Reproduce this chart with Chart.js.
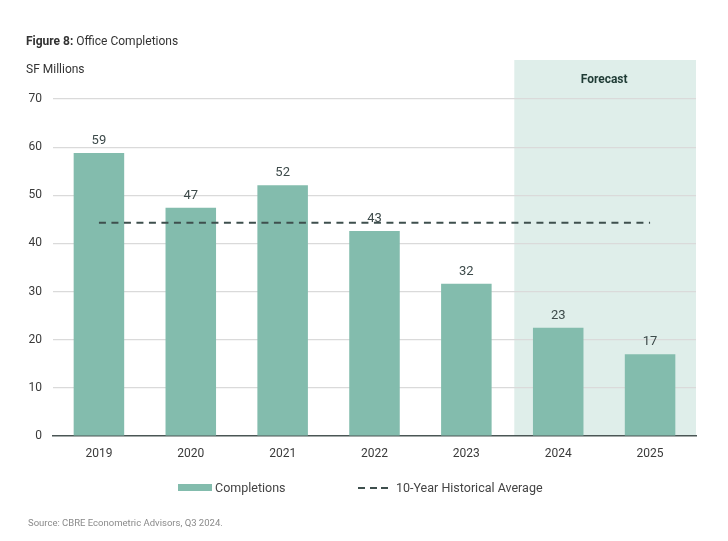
<!DOCTYPE html>
<html>
<head>
<meta charset="utf-8">
<script src="https://cdn.jsdelivr.net/npm/chart.js@4.4.1/dist/chart.umd.min.js"></script>
<style>
  html, body { margin: 0; padding: 0; background: #fff; }
  body { width: 728px; height: 541px; position: relative; overflow: hidden; font-family: Roboto, "Open Sans", sans-serif; color: #333; }
  #wrap { position: absolute; left: 0; top: 0; width: 728px; height: 541px; }
  .txt { position: absolute; white-space: nowrap; }
  #title { left: 26px; top: 34px; font-size: 12px; color: #333; }
  #title b { font-weight: 700; }
  #units { left: 26px; top: 62px; font-size: 12px; color: #333; }
  #leg1box { position: absolute; left: 178px; top: 484px; width: 34px; height: 7px; background: #83bcad; }
  #leg1 { left: 215px; top: 480px; font-size: 12.5px; color: #444; }
  .dash { position: absolute; top: 487px; width: 7px; height: 2px; background: #3e4f4d; }
  #leg2 { left: 396px; top: 480px; font-size: 12.5px; color: #444; }
  #source { left: 28px; top: 517px; font-size: 9.5px; color: #8a8a8a; }
</style>
</head>
<body>
<div id="wrap"><canvas id="c" width="728" height="541"></canvas></div>
<div class="txt" id="title"><b>Figure 8:</b> Office Completions</div>
<div class="txt" id="units">SF Millions</div>
<div id="leg1box"></div><div class="txt" id="leg1">Completions</div>
<div class="dash" style="left:358px"></div><div class="dash" style="left:369.5px"></div><div class="dash" style="left:381px"></div>
<div class="txt" id="leg2">10-Year Historical Average</div>
<div class="txt" id="source">Source: CBRE Econometric Advisors, Q3 2024.</div>
<script>
const years = ["2019", "2020", "2021", "2022", "2023", "2024", "2025"];
const completions = [58.8, 47.4, 52.1, 42.6, 31.6, 22.5, 17.0];
const historicalAverage = [44.3, 44.3, 44.3, 44.3, 44.3, 44.3, 44.3];
const yTicks = [0, 10, 20, 30, 40, 50, 60, 70];
const forecastYears = ["2024", "2025"];
const forecastLabel = "Forecast";

const forecastPlugin = {
  id: 'forecastShade',
  beforeDraw(chart) {
    const x = chart.scales.x, y = chart.scales.y, ctx = chart.ctx;
    const i0 = years.indexOf(forecastYears[0]);
    const i1 = years.indexOf(forecastYears[forecastYears.length - 1]);
    const half = (x.getPixelForValue(1) - x.getPixelForValue(0)) / 2;
    const left = x.getPixelForValue(i0) - half + 2;
    const right = x.getPixelForValue(i1) + half;
    const top = y.getPixelForValue(70) - 39;
    const bottom = y.getPixelForValue(0);
    ctx.save();
    ctx.fillStyle = '#dfeeea';
    ctx.fillRect(left, top, right - left, bottom - top);
    ctx.restore();
  },
  afterDatasetsDraw(chart) {
    const x = chart.scales.x, y = chart.scales.y, ctx = chart.ctx;
    const i0 = years.indexOf(forecastYears[0]);
    const i1 = years.indexOf(forecastYears[forecastYears.length - 1]);
    const cx = (x.getPixelForValue(i0) + x.getPixelForValue(i1)) / 2;
    ctx.save();
    ctx.font = 'bold 12px Roboto, sans-serif';
    ctx.fillStyle = '#1f3b35';
    ctx.textAlign = 'center';
    ctx.textBaseline = 'middle';
    ctx.fillText(forecastLabel, cx, y.getPixelForValue(70) - 19);
    // value labels
    ctx.font = '13px Roboto, sans-serif';
    ctx.fillStyle = '#3d4a4a';
    ctx.textBaseline = 'middle';
    const meta = chart.getDatasetMeta(0);
    meta.data.forEach((bar, i) => {
      ctx.fillText(String(Math.round(completions[i])), bar.x, bar.y - 12);
    });
    ctx.restore();
  }
};

new Chart(document.getElementById('c'), {
  data: {
    labels: years,
    datasets: [
      {
        type: 'bar',
        label: 'Completions',
        data: completions,
        backgroundColor: '#83bcad',
        barPercentage: 0.55,
        categoryPercentage: 1.0,
        order: 2
      },
      {
        type: 'line',
        label: '10-Year Historical Average',
        data: historicalAverage,
        borderColor: '#3e4f4d',
        borderWidth: 2,
        borderDash: [7, 5.5],
        pointRadius: 0,
        fill: false,
        order: 1
      }
    ]
  },
  options: {
    responsive: false,
    animation: false,
    devicePixelRatio: 1,
    layout: { padding: { top: 99, right: 32, bottom: 75, left: 0 } },
    plugins: { legend: { display: false }, tooltip: { enabled: false } },
    scales: {
      x: {
        grid: { display: false, drawTicks: false },
        border: { display: true, color: '#4a5655', width: 1.5 },
        ticks: { color: '#3a3a3a', font: { family: 'Roboto', size: 12 }, padding: 11 },
        afterFit(scale) { scale.height = 30; }
      },
      y: {
        min: 0, max: 70,
        afterBuildTicks(scale) { scale.ticks = yTicks.map(v => ({ value: v })); },
        grid: { color: (c) => c.tick && c.tick.value === 0 ? 'rgba(0,0,0,0)' : '#dadada', drawTicks: false, lineWidth: 1.2 },
        border: { display: false },
        ticks: { color: '#3a3a3a', font: { family: 'Roboto', size: 12 }, padding: 11 },
        afterFit(scale) { scale.width = 53; }
      }
    }
  },
  plugins: [forecastPlugin]
});
</script>
</body>
</html>
